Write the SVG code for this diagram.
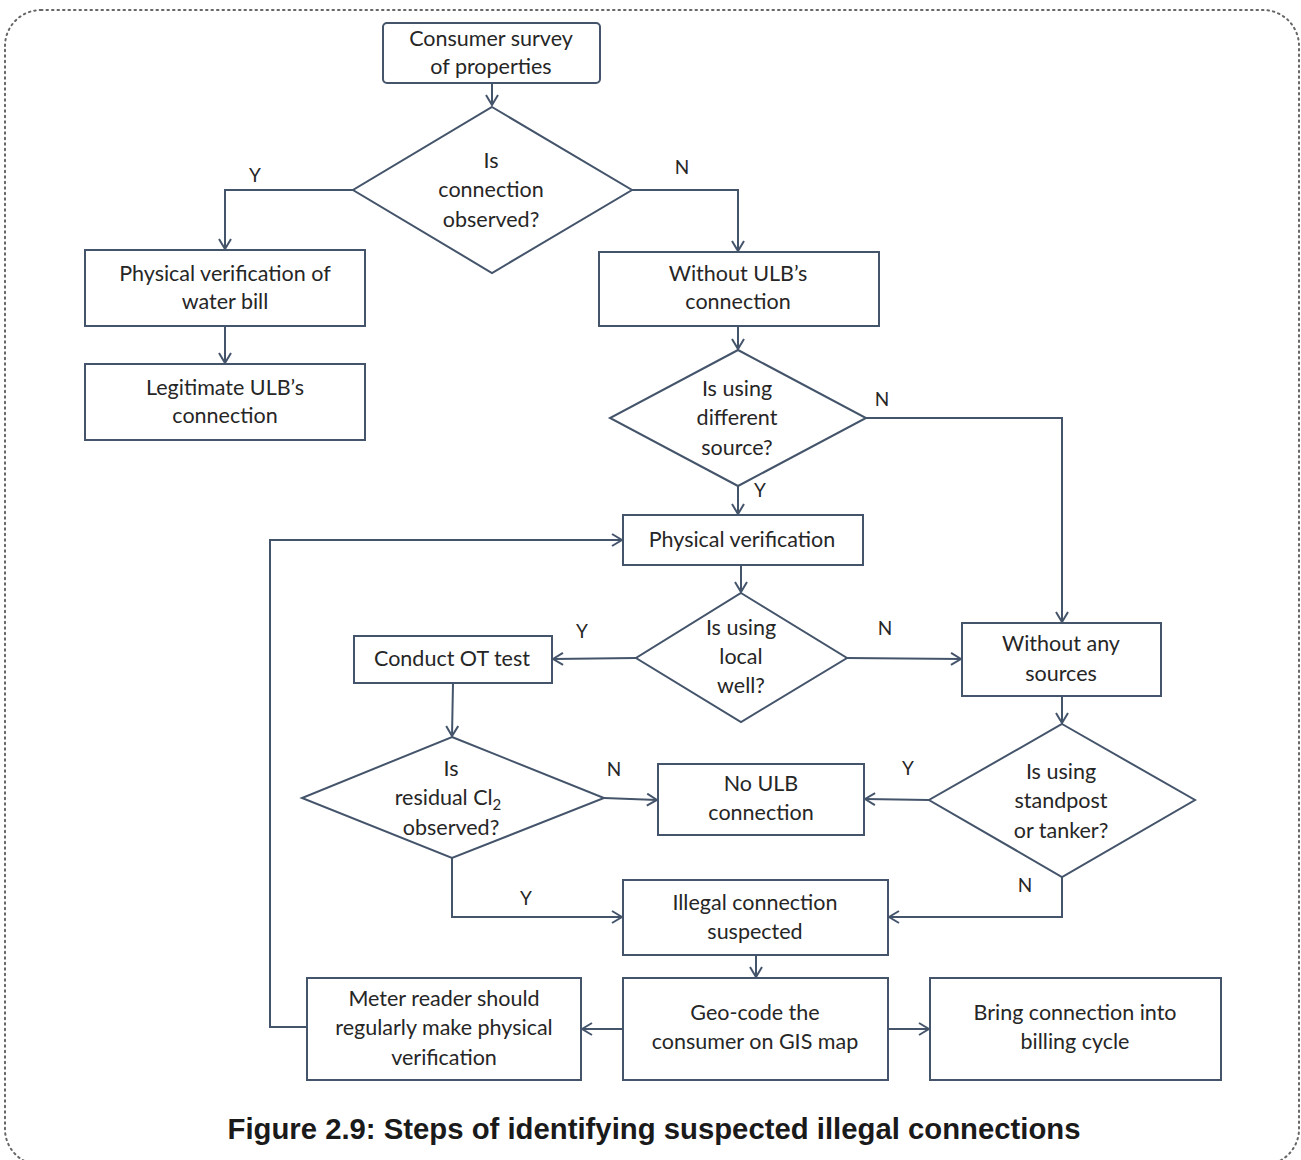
<svg xmlns="http://www.w3.org/2000/svg" width="1301" height="1160" viewBox="0 0 1301 1160">
  <style>
    .box { fill: #ffffff; stroke: #44546a; stroke-width: 2; }
    .conn { fill: none; stroke: #44546a; stroke-width: 2; }
    .t { font-family: Lato, "Open Sans", "Liberation Sans", sans-serif; font-size: 21.5px; fill: #262626; text-anchor: middle; }
    .lbl { font-family: Lato, "Open Sans", "Liberation Sans", sans-serif; font-size: 19px; fill: #262626; text-anchor: middle; }
    .cap { font-family: "Liberation Sans", Arial, sans-serif; font-size: 29.3px; font-weight: bold; fill: #1a1a1a; text-anchor: middle; }
  </style>
  <defs>
    <marker id="arr" viewBox="0 0 12 14" refX="11" refY="7" markerWidth="12" markerHeight="14" markerUnits="userSpaceOnUse" orient="auto">
      <path d="M1,1 L11,7 L1,13" fill="none" stroke="#44546a" stroke-width="2"/>
    </marker>
  </defs>

  <!-- outer dotted frame -->
  <rect x="5" y="10" width="1294" height="1155" rx="36" ry="36" fill="none" stroke="#666" stroke-width="2" stroke-dasharray="1.5 4" stroke-linecap="round"/>

  <!-- connectors -->
  <g id="connectors">
    <path class="conn" d="M492,83 V105" marker-end="url(#arr)"/>
    <path class="conn" d="M353,190 H225 V249" marker-end="url(#arr)"/>
    <path class="conn" d="M632,190 H738 V251" marker-end="url(#arr)"/>
    <path class="conn" d="M225,326 V363" marker-end="url(#arr)"/>
    <path class="conn" d="M738,326 V349" marker-end="url(#arr)"/>
    <path class="conn" d="M738,486 V514" marker-end="url(#arr)"/>
    <path class="conn" d="M866,418 H1062 V622" marker-end="url(#arr)"/>
    <path class="conn" d="M741,565 V592" marker-end="url(#arr)"/>
    <path class="conn" d="M636,658 L553,659" marker-end="url(#arr)"/>
    <path class="conn" d="M847,658 L961,659" marker-end="url(#arr)"/>
    <path class="conn" d="M453,683 L452,736" marker-end="url(#arr)"/>
    <path class="conn" d="M604,798 L657,800" marker-end="url(#arr)"/>
    <path class="conn" d="M929,800 L865,799" marker-end="url(#arr)"/>
    <path class="conn" d="M1062,696 V723" marker-end="url(#arr)"/>
    <path class="conn" d="M452,858 V917 H622" marker-end="url(#arr)"/>
    <path class="conn" d="M1062,877 V917 H889" marker-end="url(#arr)"/>
    <path class="conn" d="M756,955 V977" marker-end="url(#arr)"/>
    <path class="conn" d="M623,1029 H582" marker-end="url(#arr)"/>
    <path class="conn" d="M888,1029 H929" marker-end="url(#arr)"/>
    <path class="conn" d="M307,1027 H270 V540 H622" marker-end="url(#arr)"/>
    <text class="lbl" x="255" y="182">Y</text>
    <text class="lbl" x="682" y="174">N</text>
    <text class="lbl" x="760" y="497">Y</text>
    <text class="lbl" x="882" y="406">N</text>
    <text class="lbl" x="582" y="638">Y</text>
    <text class="lbl" x="885" y="635">N</text>
    <text class="lbl" x="614" y="776">N</text>
    <text class="lbl" x="908" y="775">Y</text>
    <text class="lbl" x="526" y="905">Y</text>
    <text class="lbl" x="1025" y="892">N</text>
  </g>

  <g id="survey">
    <rect class="box" x="383" y="23" width="217" height="60" rx="4"/>
    <text class="t" x="491" y="46">Consumer survey</text>
    <text class="t" x="491" y="74">of properties</text>
  </g>
  <g id="q-connection">
    <polygon class="box" points="492,107 632,190 492,273 353,190"/>
    <text class="t" x="491" y="168">Is</text>
    <text class="t" x="491" y="197">connection</text>
    <text class="t" x="491" y="227">observed?</text>
  </g>
  <g id="verify-bill">
    <rect class="box" x="85" y="250" width="280" height="76"/>
    <text class="t" x="225" y="281">Physical verification of</text>
    <text class="t" x="225" y="309">water bill</text>
  </g>
  <g id="legit">
    <rect class="box" x="85" y="364" width="280" height="76"/>
    <text class="t" x="225" y="395">Legitimate ULB’s</text>
    <text class="t" x="225" y="423">connection</text>
  </g>
  <g id="without-ulb">
    <rect class="box" x="599" y="252" width="280" height="74"/>
    <text class="t" x="738" y="281">Without ULB’s</text>
    <text class="t" x="738" y="309">connection</text>
  </g>
  <g id="q-source">
    <polygon class="box" points="738,350 866,418 738,486 610,418"/>
    <text class="t" x="737" y="396">Is using</text>
    <text class="t" x="737" y="425">different</text>
    <text class="t" x="737" y="455">source?</text>
  </g>
  <g id="phys-verify">
    <rect class="box" x="623" y="515" width="240" height="50"/>
    <text class="t" x="742" y="547">Physical verification</text>
  </g>
  <g id="q-well">
    <polygon class="box" points="741,593 847,658 741,722 636,658"/>
    <text class="t" x="741" y="635">Is using</text>
    <text class="t" x="741" y="664">local</text>
    <text class="t" x="741" y="693">well?</text>
  </g>
  <g id="ot-test">
    <rect class="box" x="354" y="636" width="198" height="47"/>
    <text class="t" x="452" y="666">Conduct OT test</text>
  </g>
  <g id="no-sources">
    <rect class="box" x="962" y="623" width="199" height="73"/>
    <text class="t" x="1061" y="651">Without any</text>
    <text class="t" x="1061" y="681">sources</text>
  </g>
  <g id="q-chlorine">
    <polygon class="box" points="452,737 604,798 452,858 302,798"/>
    <text class="t" x="451" y="776">Is</text>
    <text class="t" x="448" y="805">residual Cl<tspan font-size="15" dy="5">2</tspan></text>
    <text class="t" x="451" y="835">observed?</text>
  </g>
  <g id="no-ulb">
    <rect class="box" x="658" y="764" width="206" height="71"/>
    <text class="t" x="761" y="791">No ULB</text>
    <text class="t" x="761" y="820">connection</text>
  </g>
  <g id="q-standpost">
    <polygon class="box" points="1062,724 1195,800 1062,877 929,800"/>
    <text class="t" x="1061" y="779">Is using</text>
    <text class="t" x="1061" y="808">standpost</text>
    <text class="t" x="1061" y="838">or tanker?</text>
  </g>
  <g id="illegal">
    <rect class="box" x="623" y="880" width="265" height="75"/>
    <text class="t" x="755" y="910">Illegal connection</text>
    <text class="t" x="755" y="939">suspected</text>
  </g>
  <g id="meter-reader">
    <rect class="box" x="307" y="978" width="274" height="102"/>
    <text class="t" x="444" y="1006">Meter reader should</text>
    <text class="t" x="444" y="1035">regularly make physical</text>
    <text class="t" x="444" y="1065">verification</text>
  </g>
  <g id="geocode">
    <rect class="box" x="623" y="978" width="265" height="102"/>
    <text class="t" x="755" y="1020">Geo-code the</text>
    <text class="t" x="755" y="1049">consumer on GIS map</text>
  </g>
  <g id="billing">
    <rect class="box" x="930" y="978" width="291" height="102"/>
    <text class="t" x="1075" y="1020">Bring connection into</text>
    <text class="t" x="1075" y="1049">billing cycle</text>
  </g>

  <text class="cap" x="654" y="1139">Figure 2.9: Steps of identifying suspected illegal connections</text>
</svg>
